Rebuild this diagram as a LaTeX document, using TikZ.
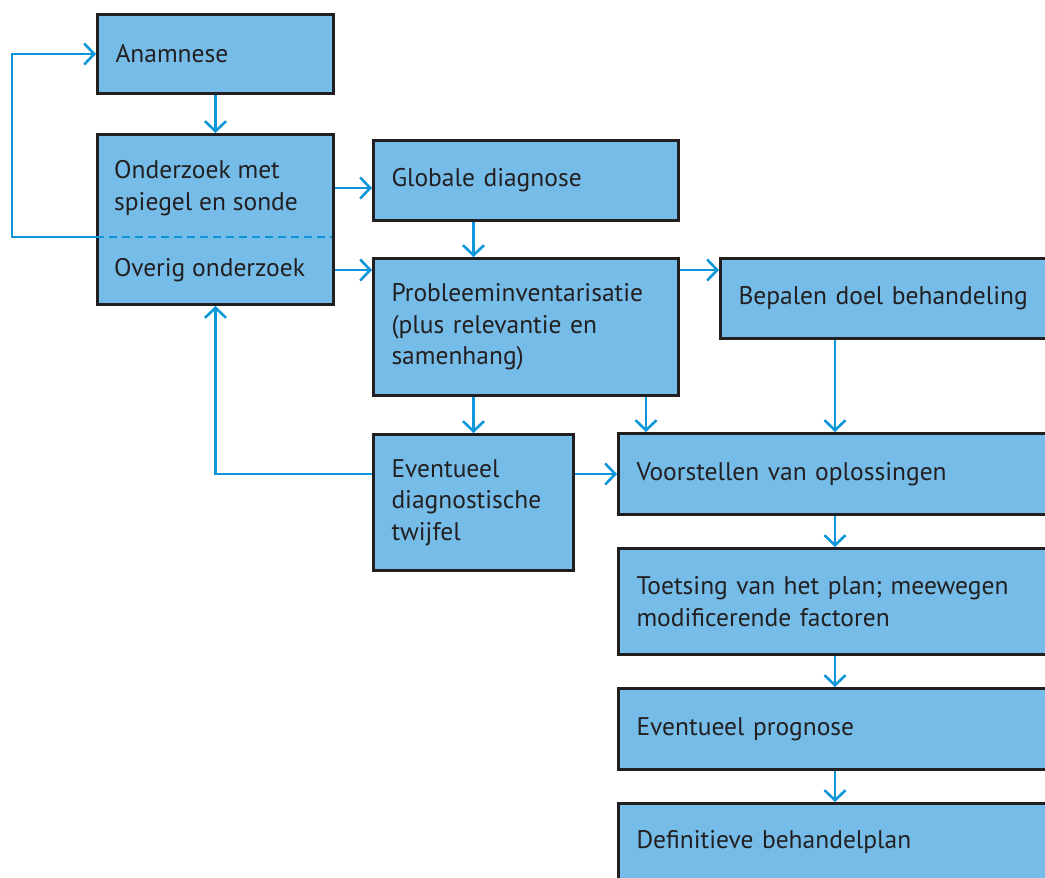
\documentclass[tikz,border=0pt]{standalone}
\usepackage{fontspec}
\setmainfont{PT Sans}
\usetikzlibrary{arrows.meta,calc}
\definecolor{boxfill}{HTML}{75BDE8}
\definecolor{boxline}{HTML}{231F20}
\definecolor{arrowblue}{HTML}{0D96D9}
\begin{document}
\begin{tikzpicture}[x=1pt,y=-1pt,
  every node/.style={font=\fontsize{25.5}{31.5}\selectfont, text=boxline},
  box/.style={draw=boxline, fill=boxfill, line width=3pt, rectangle, anchor=north west,
    inner xsep=18pt, inner ysep=0pt, align=left},
  lbl/.style={anchor=west, inner sep=0pt, align=left},
  arr/.style={draw=arrowblue, line width=2.6pt, -{Straight Barb[length=10pt,width=21pt,line width=2.6pt]}}]
\clip (0,0) rectangle (1045,878);
% boxes
\node[box, minimum width=236pt, minimum height=79pt, text width=200pt] (anam) at (96,13) {Anamnese};
\node[box, minimum width=236pt, minimum height=170pt, text width=200pt] (onder) at (96,133) {};
\node[lbl] (t1) at (114,188) {Onderzoek met\\spiegel en sonde};
\node[lbl] (t2) at (114,270) {Overig onderzoek};
\node[box, minimum width=305pt, minimum height=80pt, text width=269pt] (glob) at (372,139) {Globale diagnose};
\node[box, minimum width=305pt, minimum height=137pt, text width=269pt] (prob) at (372,257) {Probleeminventarisatie\\(plus relevantie en\\samenhang)};
\node[box, minimum width=346pt, minimum height=80pt, text width=310pt] (bep) at (719,257) {Bepalen doel behandeling};
\node[box, minimum width=200pt, minimum height=136pt, text width=164pt] (twijf) at (372,433) {Eventueel\\diagnostische\\twijfel};
\node[box, minimum width=448pt, minimum height=81pt, text width=412pt] (voor) at (617,432) {Voorstellen van oplossingen};
\node[box, minimum width=448pt, minimum height=106pt, text width=412pt] (toets) at (617,547) {Toetsing van het plan; meewegen\\modificerende factoren};
\node[box, minimum width=448pt, minimum height=81pt, text width=412pt] (prog) at (617,687) {Eventueel prognose};
\node[box, minimum width=448pt, minimum height=78pt, text width=412pt] (def) at (617,802) {Definitieve behandelplan};
% helper coordinates
\coordinate (dashL) at (96,237);
\coordinate (dashR) at (332,237);
\coordinate (cA) at (646,400);
\coordinate (cB) at (835,400);
% dashed divider and loop back
\draw[arrowblue, line width=2.6pt, dash pattern=on 8pt off 5pt] (dashL) -- (dashR);
\draw[arr] (dashL) -- ++(-84,0) |- (anam.west);
% connectors
\draw[arr] (anam.south) -- (onder.north);
\draw[arr] (onder.east |- t1) -- (glob.west |- t1);
\draw[arr] (onder.east |- t2) -- (prob.west |- t2);
\draw[arr] (twijf.north |- glob.south) -- (twijf.north |- prob.north);
\draw[arr] (prob.east |- t2) -- (bep.west |- t2);
\draw[arr] (twijf.north |- prob.south) -- (twijf.north);
\draw[arr] (cA |- prob.south) -- (cA |- voor.north);
\draw[arr] (cB |- bep.south) -- (cB |- voor.north);
\draw[arr] (twijf.east |- voor.west) -- (voor.west);
\draw[arr] (twijf.west |- voor.west) -| (onder.south);
\draw[arr] (cB |- voor.south) -- (cB |- toets.north);
\draw[arr] (cB |- toets.south) -- (cB |- prog.north);
\draw[arr] (cB |- prog.south) -- (cB |- def.north);
\end{tikzpicture}
\end{document}
